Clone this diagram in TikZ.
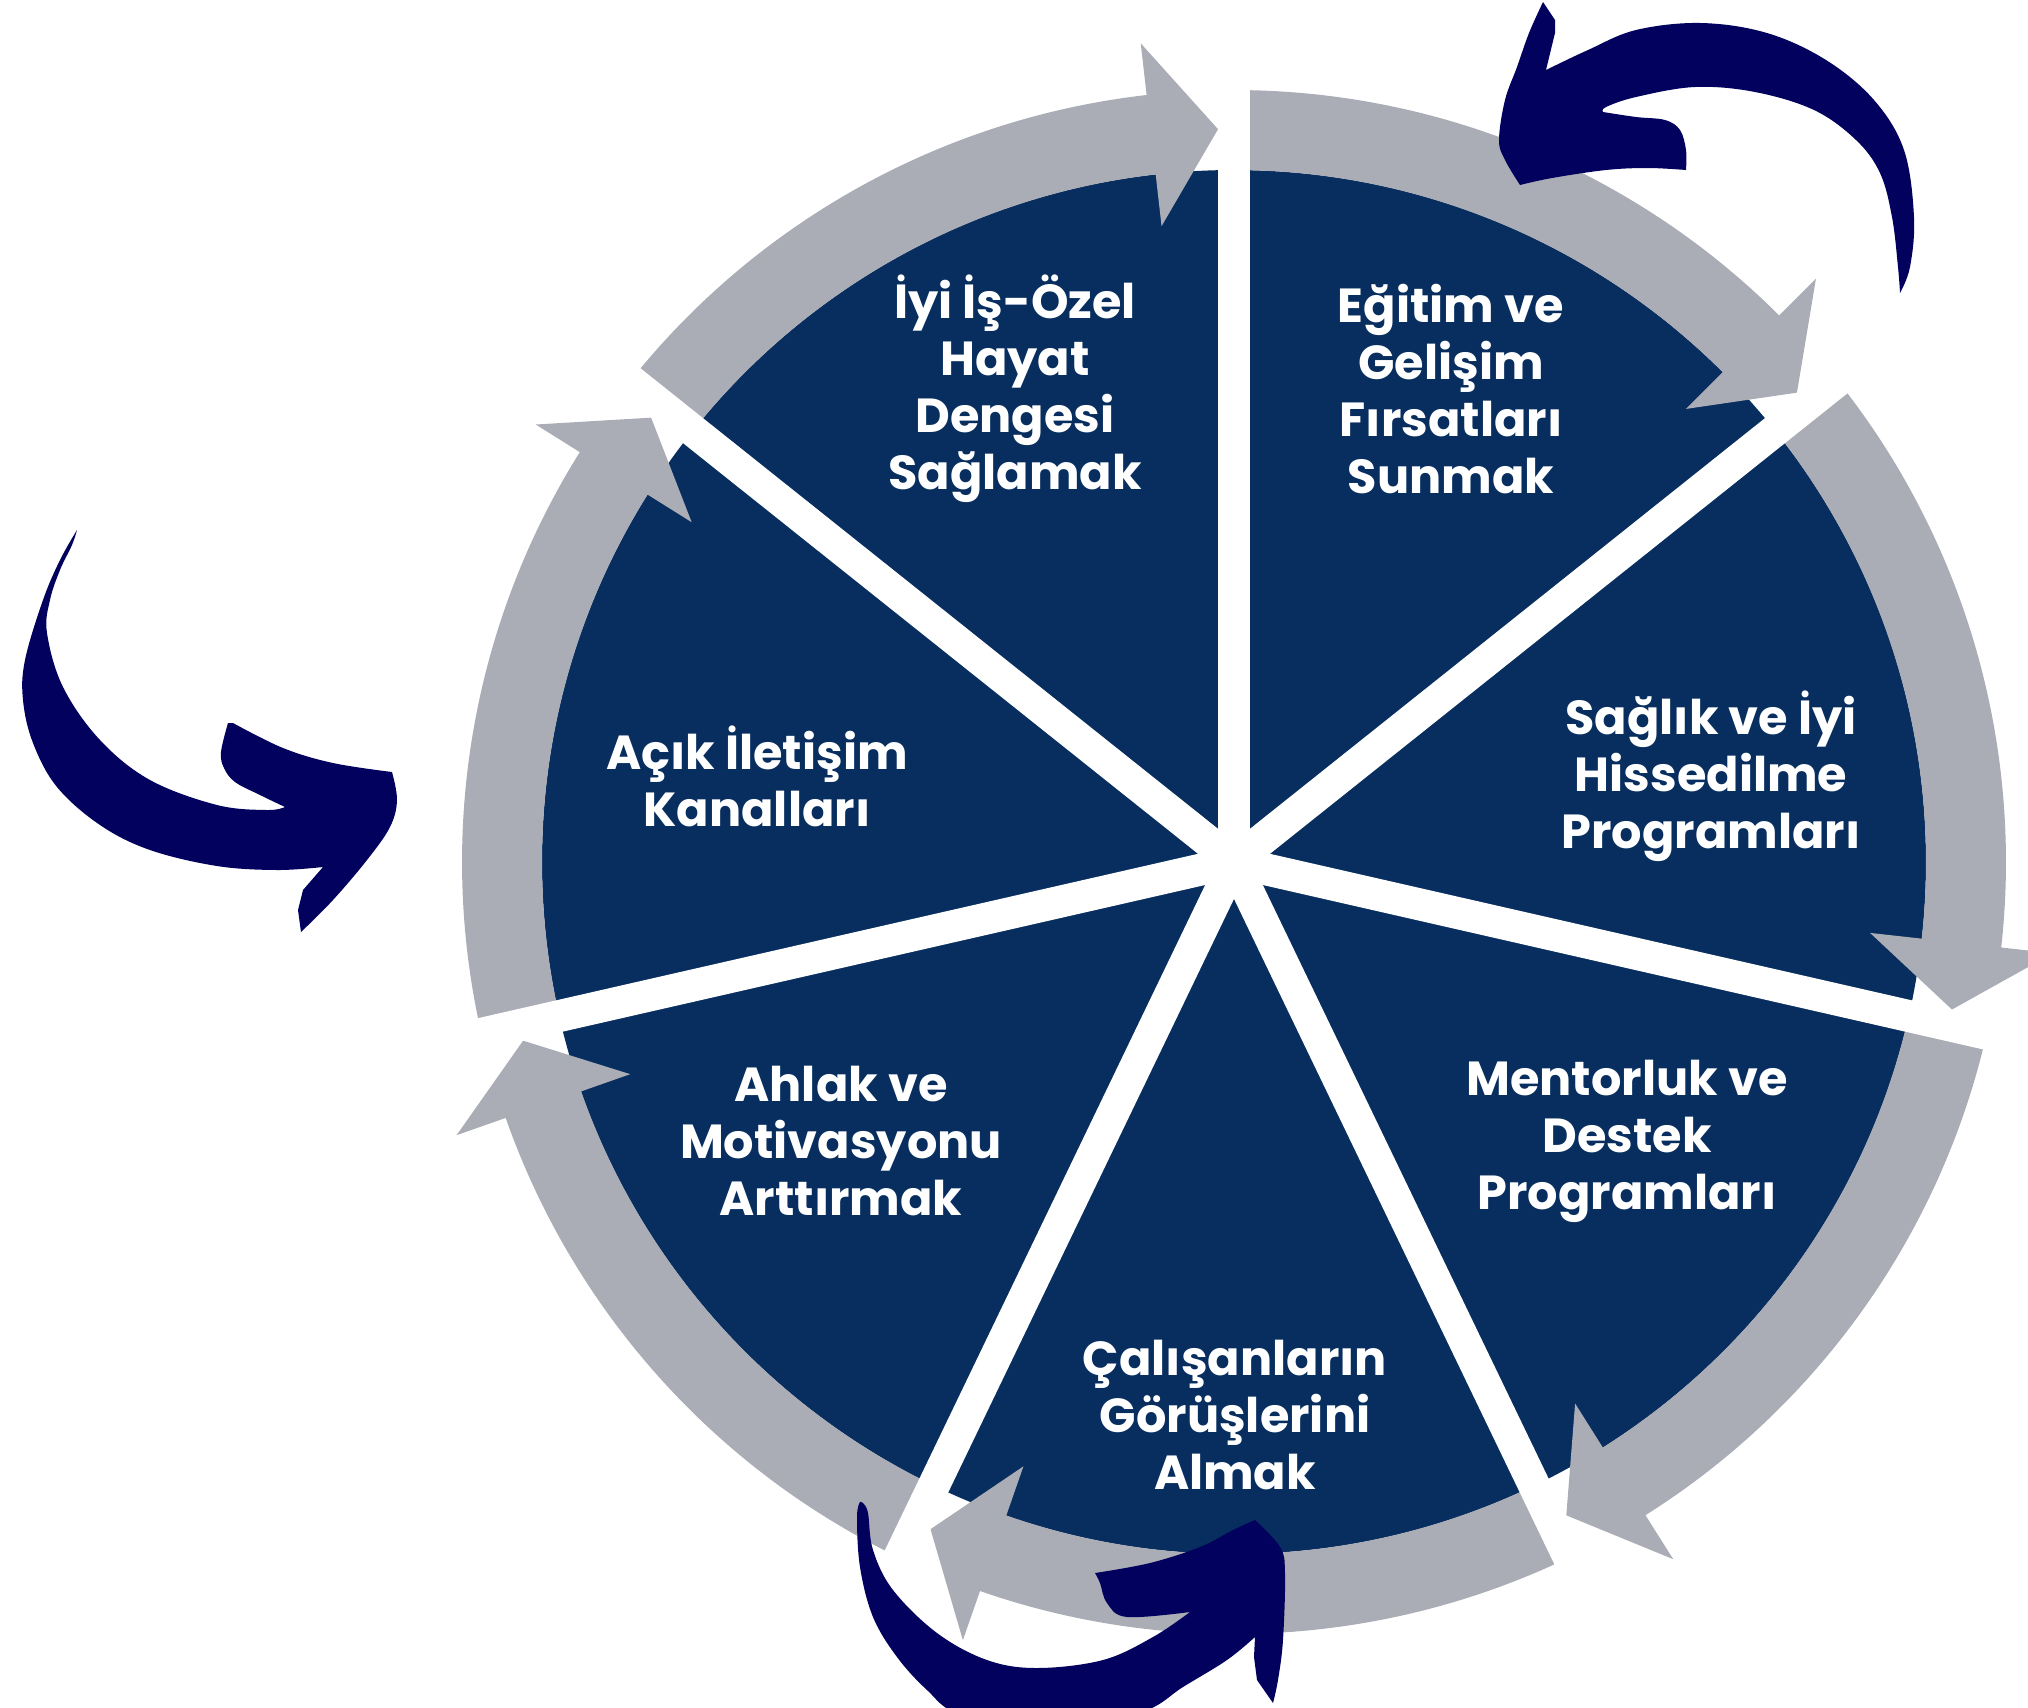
\documentclass[tikz,border=0pt]{standalone}
\usepackage{fontspec}
\setmainfont{Poppins}
\usepackage{tikz}

\definecolor{pienavy}{RGB}{7,46,94}
\definecolor{ringgray}{RGB}{170,172,182}
\definecolor{brushnavy}{RGB}{2,2,94}

\begin{document}
\begin{tikzpicture}[segtext/.style={text=white,align=center,font=\bfseries\fontsize{13.6}{16.2}\selectfont}]
\tikzstyle{every node}+=[inner sep=0pt]
\useasboundingbox (0,0) rectangle (20.28,-17.08);
\clip (0,0) rectangle (20.28,-17.08);
\begin{scope}[shift={(12.34,-8.62)}]
\fill [pienavy] (0,0) circle (6.92);
% gray ring pieces, each ends in a head (clockwise)
\fill [ringgray] (140.8:7.72) arc (140.8:96.5:7.72) -- (96.5:8.24) -- (91.25:7.33) -- (96.5:6.40) -- (96.5:6.92) arc (96.5:140.8:6.92) -- cycle;
\fill [ringgray] (89.4:7.72) arc (89.4:45.07:7.72) -- (45.07:8.24) -- (39.82:7.33) -- (45.07:6.40) -- (45.07:6.92) arc (45.07:89.4:6.92) -- cycle;
\fill [ringgray] (38:7.72) arc (38:-6.36:7.72) -- (-6.36:8.24) -- (-11.61:7.33) -- (-6.36:6.40) -- (-6.36:6.92) arc (-6.36:38:6.92) -- cycle;
\fill [ringgray] (-13.5:7.72) arc (-13.5:-57.79:7.72) -- (-57.79:8.24) -- (-63.04:7.33) -- (-57.79:6.40) -- (-57.79:6.92) arc (-57.79:-13.5:6.92) -- cycle;
\fill [ringgray] (-64.9:7.72) arc (-64.9:-109.21:7.72) -- (-109.21:8.24) -- (-114.46:7.33) -- (-109.21:6.40) -- (-109.21:6.92) arc (-109.21:-64.9:6.92) -- cycle;
\fill [ringgray] (-116.3:7.72) arc (-116.3:-160.64:7.72) -- (-160.64:8.24) -- (-165.89:7.33) -- (-160.64:6.40) -- (-160.64:6.92) arc (-160.64:-116.3:6.92) -- cycle;
\fill [ringgray] (192.3:7.72) arc (192.3:147.93:7.72) -- (147.93:8.24) -- (142.68:7.33) -- (147.93:6.40) -- (147.93:6.92) arc (147.93:192.3:6.92) -- cycle;
% white cuts between the slices
\draw [white, line width=0.32cm] (0,0) -- (90:7.9);
\draw [white, line width=0.32cm] (0,0) -- (38.57:7.9);
\draw [white, line width=0.32cm] (0,0) -- (-12.86:7.9);
\draw [white, line width=0.32cm] (0,0) -- (-64.29:7.9);
\draw [white, line width=0.32cm] (0,0) -- (-115.71:7.9);
\draw [white, line width=0.32cm] (0,0) -- (-167.14:7.9);
\draw [white, line width=0.32cm] (0,0) -- (141.43:7.9);
\end{scope}
% slice texts
\node [segtext] (denge) at (10.15,-3.89) {İyi İş-Özel\\Hayat\\Dengesi\\Sağlamak};
\node [segtext] (egitim) at (14.51,-3.89) {Eğitim ve\\Gelişim\\Fırsatları\\Sunmak};
\node [segtext] (saglik) at (17.11,-7.76) {Sağlık ve İyi\\Hissedilme\\Programları};
\node [segtext] (mentor) at (16.27,-11.41) {Mentorluk ve\\Destek\\Programları};
\node [segtext] (gorus) at (12.35,-14.15) {Çalışanların\\Görüşlerini\\Almak};
\node [segtext] (ahlak) at (8.41,-11.41) {Ahlak ve\\Motivasyonu\\Arttırmak};
\node [segtext] (iletisim) at (7.57,-7.76) {Açık İletişim\\Kanalları};
% brush arrow, left
\fill [brushnavy] plot [smooth, tension=0.6] coordinates {(0.77,-5.30) (0.60,-5.60) (0.43,-6.00) (0.25,-6.60) (0.23,-7.00) (0.33,-7.43) (0.57,-7.87) (1.00,-8.25) (1.50,-8.50) (2.17,-8.66) (2.77,-8.70) (3.23,-8.67)}
  -- (3.03,-8.90) -- (2.98,-9.10) -- (3.01,-9.32)
  -- plot [smooth, tension=0.6] coordinates {(3.01,-9.32) (3.33,-9.00) (3.67,-8.60) (3.90,-8.27) (3.97,-8.00) (3.92,-7.72)}
  -- plot [smooth, tension=0.6] coordinates {(3.92,-7.72) (3.33,-7.63) (2.83,-7.48) (2.33,-7.23)}
  -- (2.28,-7.23)
  -- plot [smooth, tension=0.6] coordinates {(2.28,-7.23) (2.21,-7.52) (2.24,-7.68) (2.35,-7.82) (2.60,-7.95) (2.85,-8.07)}
  -- plot [smooth, tension=0.6] coordinates {(2.85,-8.07) (2.67,-8.10) (2.17,-8.05) (1.50,-7.80) (1.00,-7.40) (0.63,-6.87) (0.47,-6.33) (0.50,-6.00) (0.60,-5.70) (0.72,-5.45) (0.77,-5.30)} -- cycle;
% brush arrow, top right
\fill [brushnavy] plot [smooth, tension=0.6] coordinates {(15.20,-1.85) (15.05,-1.60) (14.99,-1.40) (15.05,-1.00) (15.17,-0.67) (15.29,-0.33) (15.43,-0.02)}
  -- (15.55,-0.20) -- (15.55,-0.33) -- (15.46,-0.70)
  -- plot [smooth, tension=0.6] coordinates {(15.46,-0.70) (15.88,-0.50) (16.36,-0.30) (17.01,-0.23) (17.67,-0.33) (18.26,-0.60) (18.74,-1.00) (19.04,-1.50) (19.14,-2.17) (19.10,-2.67) (19.00,-2.93)}
  -- plot [smooth, tension=0.6] coordinates {(19.00,-2.93) (18.98,-2.67) (18.92,-2.17) (18.80,-1.73) (18.56,-1.40) (18.14,-1.10) (17.55,-0.92) (16.95,-0.87) (16.36,-0.97) (16.06,-1.07) (16.03,-1.12)}
  -- plot [smooth, tension=0.6] coordinates {(16.03,-1.12) (16.36,-1.17) (16.65,-1.20) (16.80,-1.30) (16.86,-1.50) (16.86,-1.70)}
  -- plot [smooth, tension=0.6] coordinates {(16.86,-1.70) (16.48,-1.68) (16.06,-1.70) (15.52,-1.78) (15.20,-1.85)} -- cycle;
% brush arrow, bottom
\fill [brushnavy] plot [smooth, tension=0.6] coordinates {(8.60,-15.02) (8.57,-15.17) (8.60,-15.67) (8.73,-16.17) (8.97,-16.57) (9.27,-16.90) (9.60,-17.15) (10.50,-17.40) (11.43,-17.12) (11.83,-16.87) (12.27,-16.60) (12.55,-16.37)}
  -- (12.54,-16.57) -- (12.57,-16.80) -- (12.73,-17.03)
  -- plot [smooth, tension=0.6] coordinates {(12.73,-17.03) (12.78,-16.80) (12.83,-16.40) (12.85,-15.73) (12.80,-15.47) (12.55,-15.20)}
  -- plot [smooth, tension=0.6] coordinates {(12.55,-15.20) (12.33,-15.30) (12.00,-15.47) (11.50,-15.63) (10.95,-15.73)}
  -- plot [smooth, tension=0.6] coordinates {(10.95,-15.73) (11.00,-15.83) (11.07,-16.03) (11.27,-16.17) (11.90,-16.12)}
  -- plot [smooth, tension=0.6] coordinates {(11.90,-16.12) (11.53,-16.37) (11.03,-16.60) (10.37,-16.68) (9.87,-16.60) (9.37,-16.33) (8.93,-15.90) (8.73,-15.50) (8.68,-15.13) (8.63,-15.03) (8.60,-15.02)} -- cycle;
\end{tikzpicture}
\end{document}
